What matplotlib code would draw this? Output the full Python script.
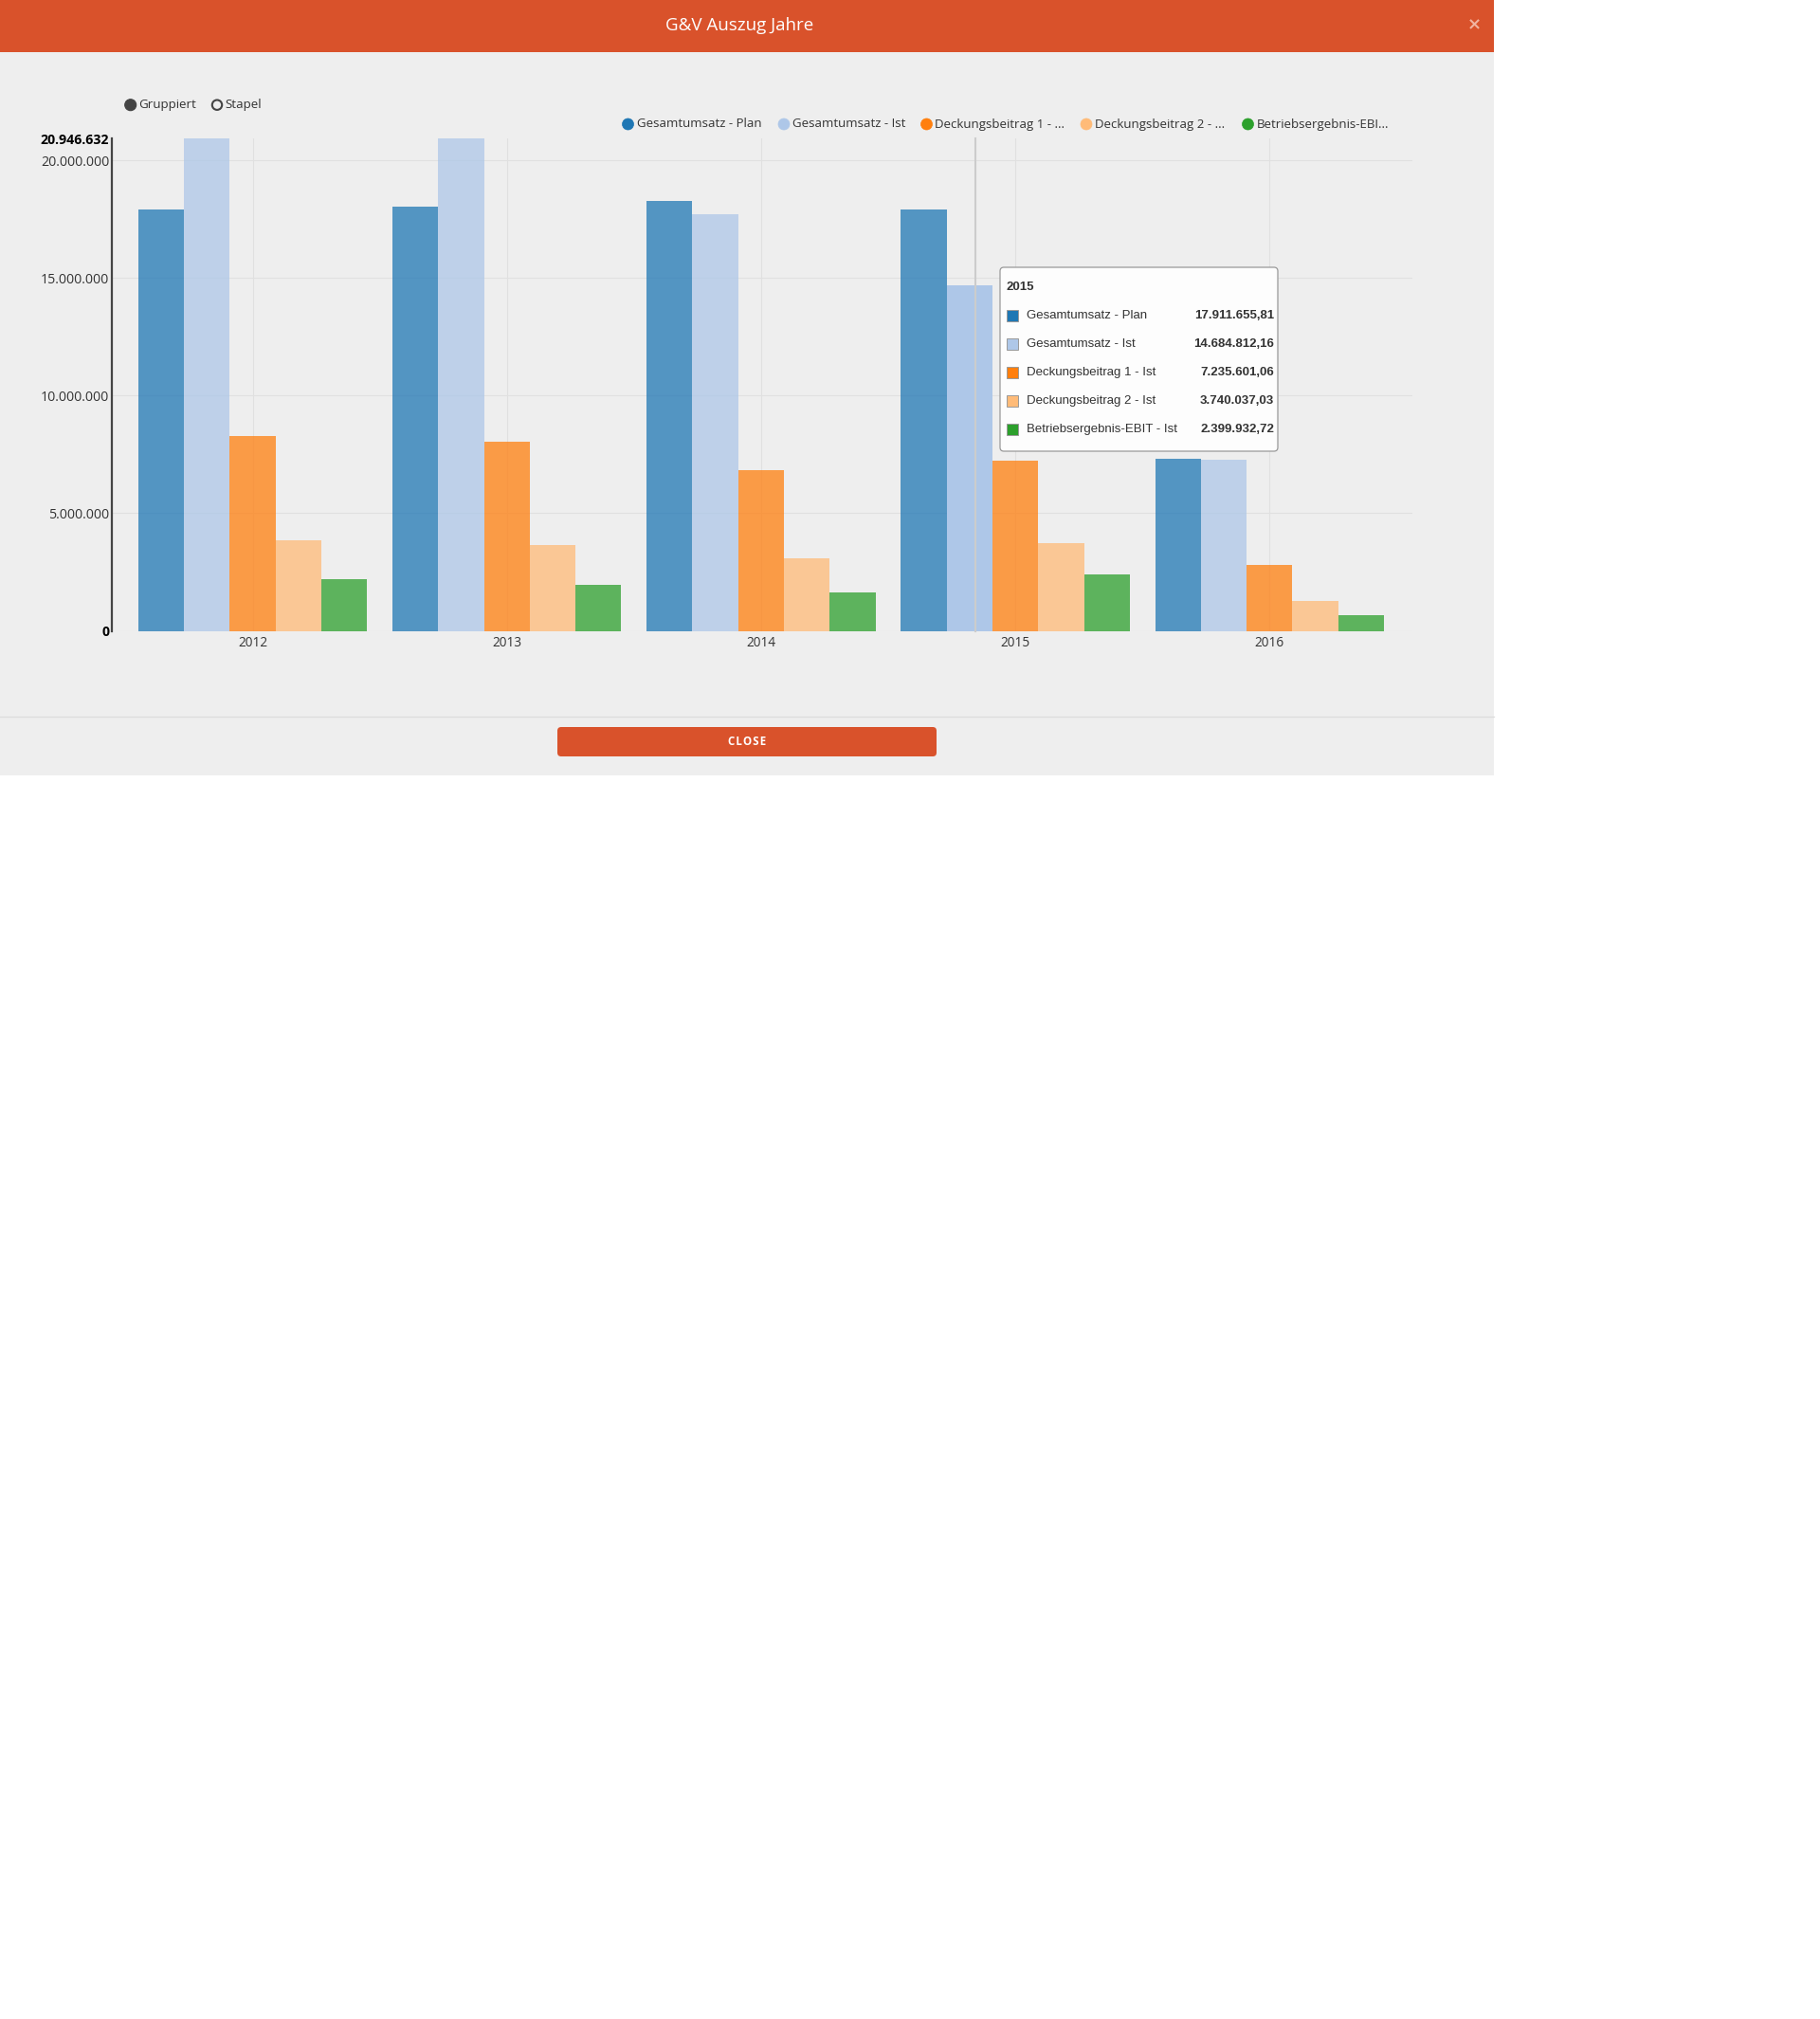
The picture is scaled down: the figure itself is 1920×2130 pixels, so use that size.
import matplotlib
matplotlib.use("Agg")
import matplotlib.pyplot as plt
from matplotlib.patches import Rectangle, FancyBboxPatch, Circle
import numpy as np

plt.rcParams['font.family'] = ['Open Sans', 'DejaVu Sans']

# ---------------- data ----------------
years = ["2012", "2013", "2014", "2015", "2016"]
series_names = ["Gesamtumsatz - Plan", "Gesamtumsatz - Ist", "Deckungsbeitrag 1 - Ist",
                "Deckungsbeitrag 2 - Ist", "Betriebsergebnis-EBIT - Ist"]
legend_labels = ["Gesamtumsatz - Plan", "Gesamtumsatz - Ist", "Deckungsbeitrag 1 - ...",
                 "Deckungsbeitrag 2 - ...", "Betriebsergebnis-EBI..."]
plan = [17_920_000, 18_040_000, 18_270_000, 17_911_655.81, 7_310_000]
ist = [20_946_632, 20_930_000, 17_720_000, 14_684_812.16, 7_270_000]
db1 = [8_270_000, 8_050_000, 6_820_000, 7_235_601.06, 2_800_000]
db2 = [3_870_000, 3_640_000, 3_080_000, 3_740_037.03, 1_270_000]
ebit = [2_180_000, 1_960_000, 1_650_000, 2_399_932.72, 670_000]
colors = ["#1f77b4", "#aec7e8", "#ff7f0e", "#ffbb78", "#2ca02c"]
tooltip_year_index = 3
hover_series_index = 1

series = [plan, ist, db1, db2, ebit]


def de(v, dec=0):
    s = f"{v:,.{dec}f}"
    return s.replace(',', 'X').replace('.', ',').replace('X', '.')


W, H = 1920, 2130
HEADER = "#D9522B"
fig = plt.figure(figsize=(W / 100, H / 100), dpi=100, facecolor='white')

# ---------------- background / dialog ----------------
bg = fig.add_axes([0, 0, 1, 1], zorder=0)
bg.set_xlim(0, W)
bg.set_ylim(H, 0)
bg.axis('off')
bg.add_patch(Rectangle((0, 0), 1576, 818, facecolor='#eeeeee', edgecolor='none'))
bg.add_patch(Rectangle((0, 0), 1576, 55, facecolor=HEADER, edgecolor='none'))
bg.text(780, 27.5, "G&V Auszug Jahre", color='white', fontsize=13.5,
        ha='center', va='center')
bg.text(1555, 26, "×", color='#f0b4a2', fontsize=13, fontweight='bold',
        ha='center', va='center', family='DejaVu Sans')
bg.plot([0, 1576], [756, 756], color='#dcdcdc', lw=0.9)
bg.add_patch(FancyBboxPatch((588, 767), 400, 31,
                            boxstyle='round,pad=0,rounding_size=4',
                            facecolor=HEADER, edgecolor='none'))
bg.text(788, 782.5, "C L O S E".replace(" ", "\u200a"), color='white', fontsize=8.3,
        fontweight='bold', ha='center', va='center')

# radio buttons
bg.add_patch(Circle((137.7, 110.7), 6, facecolor='#444444', edgecolor='#444444', lw=0.8))
bg.text(146.5, 110.7, "Gruppiert", fontsize=9.6, color='#333333', va='center', ha='left')
bg.add_patch(Circle((229, 110.7), 5.2, facecolor='none', edgecolor='#444444', lw=1.5))
bg.text(237.5, 110.7, "Stapel", fontsize=9.6, color='#333333', va='center', ha='left')

# legend
leg_x = [662.5, 827, 977.5, 1146, 1316.5]
for lx, lab, c in zip(leg_x, legend_labels, colors):
    bg.add_patch(Circle((lx, 131), 6, facecolor=c, edgecolor=c, lw=0.5))
    bg.text(lx + 9, 131, lab, fontsize=9.5, color='#333333', va='center', ha='left')

# ---------------- chart ----------------
ax_left, ax_right, ax_top, ax_bot = 118, 1490, 146, 665.5
ax = fig.add_axes([ax_left / W, 1 - ax_bot / H, (ax_right - ax_left) / W,
                   (ax_bot - ax_top) / H], zorder=1)
ax.set_facecolor('none')

x = np.arange(len(years))
bw = 0.18
offsets = (np.arange(len(series)) - (len(series) - 1) / 2) * bw
for k, (vals, c) in enumerate(zip(series, colors)):
    bars = ax.bar(x + offsets[k], vals, bw, color=c, alpha=0.75, zorder=2, linewidth=0)
    if k == hover_series_index:
        bars[tooltip_year_index].set_alpha(1.0)

ymax = max(max(s) for s in series)
step_px = 268.2
c0_px = 266.5
ax.set_xlim((ax_left - c0_px) / step_px, (ax_right - c0_px) / step_px)
ax.set_ylim(0, ymax)

grid_vals = [0, 5_000_000, 10_000_000, 15_000_000, 20_000_000]
for v in grid_vals:
    ax.axhline(v, color='#e0e0e0', lw=0.8, zorder=0)
for xi in x:
    ax.axvline(xi, color='#e0e0e0', lw=0.8, zorder=0)

for s in ['top', 'right', 'bottom']:
    ax.spines[s].set_visible(False)
ax.spines['left'].set_color('#444444')
ax.spines['left'].set_linewidth(1.6)
ax.spines['left'].set_zorder(3)

yt = grid_vals + [ymax]
ax.set_yticks(yt)
ax.set_yticklabels([de(v) for v in yt])
ax.tick_params(axis='y', length=0, pad=2, labelsize=10.2, labelcolor='#333333')
for lab, v in zip(ax.get_yticklabels(), yt):
    if v == 0 or v == ymax:
        lab.set_fontweight('bold')
        lab.set_color('black')
ax.set_xticks(x)
ax.set_xticklabels(years)
ax.tick_params(axis='x', length=0, pad=4, labelsize=9.8, labelcolor='#333333')

# ---------------- foreground: hover line + tooltip ----------------
fg = fig.add_axes([0, 0, 1, 1], zorder=3)
fg.set_xlim(0, W)
fg.set_ylim(H, 0)
fg.axis('off')
fg.set_facecolor('none')
fg.plot([1029, 1029], [146, 665.5], color='#cccccc', lw=1.5)

fg.add_patch(FancyBboxPatch((1055, 282), 293, 194,
                            boxstyle='round,pad=0,rounding_size=4',
                            facecolor='#fdfdfd', edgecolor='#999999', lw=0.9))
tt_font = 'Liberation Sans'
fg.text(1062, 303.5, years[tooltip_year_index], fontsize=9.5, fontweight='bold',
        color='#333333', va='center', ha='left', family=tt_font)
for k, (name, c, vals) in enumerate(zip(series_names, colors, series)):
    yy = 333.3 + 30 * k
    fg.add_patch(Rectangle((1062, yy - 6), 12, 12, facecolor=c, edgecolor='#999999', lw=0.7))
    fg.text(1083, yy, name, fontsize=9.5, color='#333333', va='center', ha='left',
            family=tt_font)
    fg.text(1344, yy, de(vals[tooltip_year_index], 2), fontsize=9.5, fontweight='bold',
            color='#333333', va='center', ha='right', family=tt_font)

fig.savefig("out.png", dpi=100, facecolor='white')
